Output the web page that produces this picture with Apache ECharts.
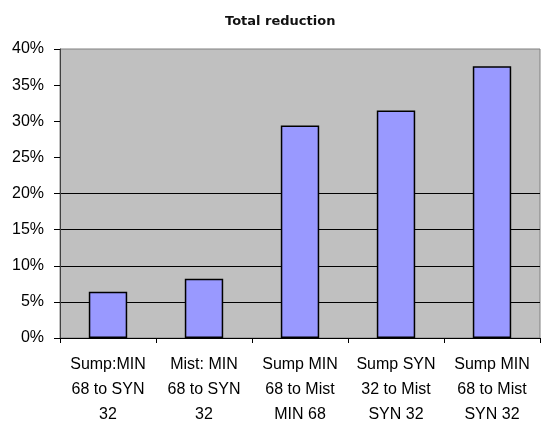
<!DOCTYPE html>
<html>
<head>
<meta charset="utf-8">
<script src="https://cdn.jsdelivr.net/npm/echarts@6/dist/echarts.min.js"></script>
<style>
html,body{margin:0;padding:0;background:#fff;overflow:hidden;}
#chart{width:541px;height:427px;}
</style>
</head>
<body>
<div id="chart"></div>
<script>
var titleText = 'Total reduction';
var categories = [
  'Sump:MIN\n68 to SYN\n32',
  'Mist: MIN\n68 to SYN\n32',
  'Sump MIN\n68 to Mist\nMIN 68',
  'Sump SYN\n32 to Mist\nSYN 32',
  'Sump MIN\n68 to Mist\nSYN 32'
];
var reduction = [6.4, 8.2, 29.4, 31.5, 37.6];
var yMin = 0, yMax = 40, yStep = 5;

var T = 'rgba(0,0,0,0)';
var chart = echarts.init(document.getElementById('chart'), null, {renderer: 'canvas', width: 541, height: 427});
chart.setOption({
  animation: false,
  backgroundColor: '#ffffff',
  title: {
    text: titleText,
    left: 220,
    top: 10,
    textStyle: {fontFamily: 'DejaVu Sans', fontSize: 13, fontWeight: 'bold', color: '#111'}
  },
  grid: {
    left: 60, width: 480, top: 49, height: 295,
    show: true, backgroundColor: '#c0c0c0', borderColor: '#808080', borderWidth: 1,
    containLabel: false
  },
  xAxis: {
    type: 'category',
    data: categories,
    axisLine: {show: true, lineStyle: {color: '#000', width: 1}},
    axisTick: {show: true, length: 5, lineStyle: {color: '#000'}},
    axisLabel: {
      fontFamily: 'Liberation Sans, Arial', fontSize: 16, lineHeight: 25,
      color: '#000', margin: 14, interval: 0, align: 'center'
    },
    splitLine: {show: false}
  },
  yAxis: {
    type: 'value',
    min: yMin, max: yMax, interval: yStep,
    axisLine: {show: true, lineStyle: {color: '#404040', width: 1}},
    axisTick: {show: true, length: 6, lineStyle: {color: '#000'}},
    axisLabel: {
      fontFamily: 'Liberation Sans, Arial', fontSize: 16, color: '#000',
      margin: 16, formatter: '{value}%'
    },
    splitLine: {show: true, lineStyle: {color: [T, '#000', '#000', '#000', '#000', T, T, T, T], width: 1}}
  },
  series: [{
    type: 'bar',
    data: reduction,
    barWidth: '40%',
    itemStyle: {color: '#9999ff', borderColor: '#000', borderWidth: 1.5}
  }]
});
</script>
</body>
</html>
